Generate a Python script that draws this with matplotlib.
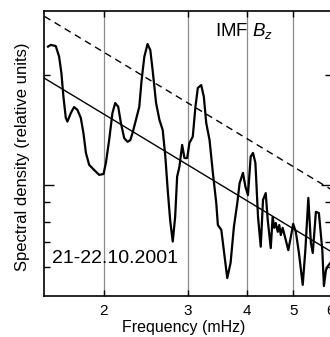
import matplotlib
matplotlib.use("Agg")
import matplotlib.pyplot as plt

plt.rcParams['font.family'] = ['Liberation Sans', 'DejaVu Sans']
plt.rcParams['mathtext.fontset'] = 'custom'
plt.rcParams['mathtext.rm'] = 'Liberation Sans'
plt.rcParams['mathtext.it'] = 'Liberation Sans:italic'

# spectrum of IMF Bz, frequency in mHz, density in relative (log) units
freq = [1.526, 1.546, 1.584, 1.610, 1.628, 1.644, 1.663, 1.676, 1.704, 1.731,
        1.759, 1.788, 1.811, 1.833, 1.862, 1.908, 1.954, 1.996, 2.019, 2.051,
        2.084, 2.112, 2.143, 2.171, 2.206, 2.242, 2.272, 2.297, 2.335, 2.373,
        2.400, 2.432, 2.470, 2.503, 2.531, 2.574, 2.616, 2.658, 2.692, 2.723,
        2.755, 2.790, 2.823, 2.850, 2.882, 2.920, 2.953, 2.992, 3.025, 3.074,
        3.114, 3.150, 3.202, 3.243, 3.281, 3.334, 3.388, 3.444, 3.471, 3.529,
        3.586, 3.632, 3.691, 3.751, 3.813, 3.856, 3.919, 3.965, 4.015, 4.068,
        4.114, 4.162, 4.215, 4.271, 4.318, 4.375, 4.418, 4.483, 4.524, 4.560,
        4.593, 4.638, 4.672, 4.706, 4.749, 4.822, 4.880, 4.940, 4.997, 5.061,
        5.135, 5.233, 5.300, 5.377, 5.444, 5.494, 5.577, 5.659, 5.753, 5.798,
        5.855, 5.912, 5.999]
density = [87.5, 88.1, 87.7, 84.0, 78.2, 69.9, 62.5, 61.2, 64.2, 66.3,
           65.3, 62.5, 57.2, 50.2, 46.0, 44.2, 42.5, 42.8, 46.7, 54.7,
           64.2, 67.7, 66.4, 60.7, 55.4, 54.1, 54.7, 57.2, 61.8, 66.4,
           75.8, 84.0, 88.4, 86.3, 79.3, 67.7, 61.8, 58.2, 48.9, 37.2,
           26.7, 19.1, 27.8, 41.9, 45.4, 53.0, 48.4, 48.4, 53.7, 55.9,
           66.4, 73.0, 74.0, 69.9, 60.7, 54.7, 43.2, 32.6, 24.9, 23.2,
           13.8, 6.3, 11.6, 24.3, 32.6, 39.6, 43.2, 38.4, 35.4, 48.9,
           50.2, 46.7, 27.8, 17.3, 33.7, 36.1, 26.7, 16.8, 27.7, 23.9,
           25.6, 22.5, 24.9, 21.4, 23.9, 19.6, 16.1, 20.7, 25.3, 22.5,
           15.4, 3.9, 16.1, 34.4, 18.6, 15.1, 29.5, 29.1, 16.1, 3.5,
           9.1, 10.5, 11.9]

# power-law fits (straight lines in log-log)
fit_freq = [1.5, 6.0]
fit_solid = [76.4, 15.6]
fit_dashed = [98.1, 37.4]

xticks = [2, 3, 4, 5, 6]
yticks_major = [38.9]
yticks_minor = [77.5, 33.0, 26.0, 18.9, 10.2]

fig = plt.figure(figsize=(3.30, 3.37), dpi=100)
ax = fig.add_axes([0.1348, 0.1217, 0.8682, 0.8457])

for xv in xticks:
    ax.axvline(xv, color='#8a8a8a', lw=0.9, zorder=1)

ax.plot(fit_freq, fit_dashed, color='black', lw=1.0, ls=(0, (5, 3.5)), zorder=2)
ax.plot(fit_freq, fit_solid, color='black', lw=1.0, zorder=2)
ax.plot(freq, density, color='black', lw=1.6, solid_joinstyle='round', zorder=3)

ax.set_xscale('log')
ax.set_xlim(1.5, 6.0)
ax.set_ylim(0, 100)
ax.set_xticks(xticks)
ax.set_xticklabels([str(v) for v in xticks])
ax.xaxis.set_minor_locator(matplotlib.ticker.NullLocator())
ax.set_yticks(yticks_major)
ax.set_yticks(yticks_minor, minor=True)
ax.set_yticklabels([])

ax.tick_params(axis='x', which='both', direction='in', top=True, bottom=True,
               length=4, width=1.0, labelsize=11, pad=6)
ax.tick_params(axis='y', which='major', direction='in', left=True, right=True,
               length=7, width=1.0)
ax.tick_params(axis='y', which='minor', direction='in', left=True, right=True,
               length=4.5, width=1.0)

for side in ['left', 'bottom', 'top']:
    ax.spines[side].set_linewidth(1.2)
ax.spines['right'].set_visible(False)

ax.set_xlabel('Frequency (mHz)', fontsize=11.5)
ax.xaxis.set_label_coords(0.487, -0.085)
ax.set_ylabel('Spectral density (relative units)', fontsize=12)
ax.yaxis.set_label_coords(-0.05, 0.488)

ax.text(3.416, 91.2, r'IMF $B_z$', fontsize=13.5, va='baseline', ha='left')
ax.text(1.556, 11.6, '21-22.10.2001', fontsize=14, va='baseline', ha='left')

fig.savefig('out.png', dpi=100)
